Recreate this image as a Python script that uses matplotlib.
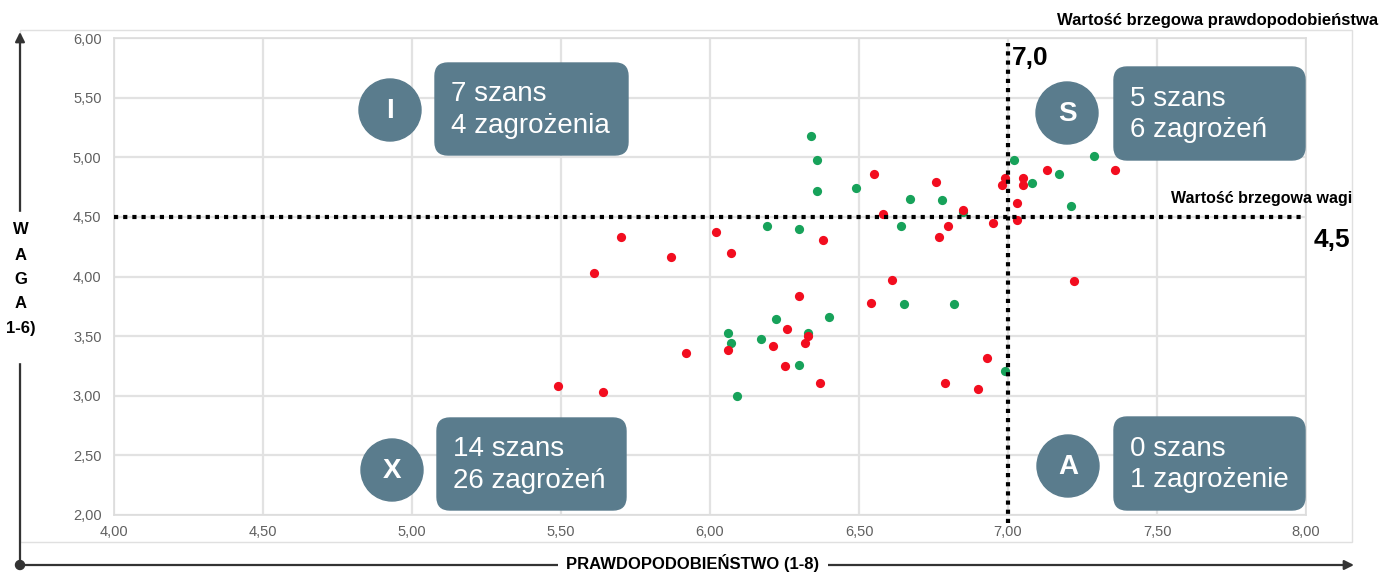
import numpy as np
import matplotlib.pyplot as plt
from matplotlib.patches import Circle, FancyBboxPatch, Rectangle

plt.rcParams['font.family'] = ['Liberation Sans', 'DejaVu Sans']

# szanse (zielone)
szanse_x = [6.34, 6.36, 6.36, 6.19, 6.30, 6.22, 6.40, 6.49, 6.67, 6.78, 6.64, 6.85, 7.02,
            7.08, 7.17, 7.29, 7.21, 6.65, 6.82, 6.33, 6.06, 6.07, 6.17, 6.30, 6.09, 6.99]
szanse_y = [5.18, 4.98, 4.72, 4.42, 4.40, 3.64, 3.66, 4.74, 4.65, 4.64, 4.42, 4.54, 4.98,
            4.78, 4.86, 5.01, 4.59, 3.77, 3.77, 3.53, 3.53, 3.44, 3.48, 3.26, 3.00, 3.21]

# zagrożenia (czerwone)
zagr_x = [6.38, 5.70, 6.02, 5.87, 6.07, 5.61, 6.30, 6.55, 6.76, 6.58, 6.85, 6.80, 6.77,
          6.95, 6.99, 6.98, 7.05, 7.05, 7.03, 7.03, 7.13, 7.36, 6.61, 6.54, 7.22, 6.26,
          6.33, 6.32, 6.06, 6.21, 5.92, 6.25, 6.37, 5.49, 5.64, 6.93, 6.79, 6.90]
zagr_y = [4.31, 4.33, 4.37, 4.16, 4.20, 4.03, 3.84, 4.86, 4.79, 4.52, 4.56, 4.42, 4.33,
          4.45, 4.83, 4.77, 4.83, 4.77, 4.62, 4.47, 4.89, 4.89, 3.97, 3.78, 3.96, 3.56,
          3.50, 3.44, 3.38, 3.42, 3.36, 3.25, 3.11, 3.08, 3.03, 3.32, 3.11, 3.06]

prog_x = 7.0
prog_y = 4.5
x_ticks = [4.0, 4.5, 5.0, 5.5, 6.0, 6.5, 7.0, 7.5, 8.0]
y_ticks = [2.0, 2.5, 3.0, 3.5, 4.0, 4.5, 5.0, 5.5, 6.0]

cwiartki = ['I', 'S', 'X', 'A']
opisy = ['7 szans\n4 zagrożenia', '5 szans\n6 zagrożeń',
         '14 szans\n26 zagrożeń', '0 szans\n1 zagrożenie']

W, H = 1394, 574
fig = plt.figure(figsize=(W / 100, H / 100), dpi=100)
ax = fig.add_axes([114 / W, 1 - 515 / H, (1306 - 114) / W, (515 - 38) / H])

ax.set_xlim(4, 8)
ax.set_ylim(2, 6)
ax.set_xticks(x_ticks)
ax.set_yticks(y_ticks)
ax.set_xticklabels([f'{v:.2f}'.replace('.', ',') for v in x_ticks])
ax.set_yticklabels([f'{v:.2f}'.replace('.', ',') for v in y_ticks])
ax.tick_params(length=0, labelsize=10.5, colors='#606060')
ax.tick_params(axis='x', pad=7)
ax.tick_params(axis='y', pad=9)
ax.grid(True, color='#e2e2e2', lw=1.6)
ax.set_axisbelow(True)
for s in ax.spines.values():
    s.set_color('#dcdcdc')
    s.set_linewidth(1.2)

ax.scatter(szanse_x, szanse_y, s=44, color='#17a25a', zorder=3, linewidths=0)
ax.scatter(zagr_x, zagr_y, s=44, color='#f20d1f', zorder=4, linewidths=0)

# progi
ax.plot([4, 7.99], [prog_y, prog_y], color='black', lw=3,
        dashes=(1, 1.2), solid_capstyle='butt', dash_capstyle='butt', zorder=5)
ax.plot([prog_x, prog_x], [-0.017, 0.99], color='black', lw=3,
        transform=ax.get_xaxis_transform(), clip_on=False,
        dashes=(1, 1.2), dash_capstyle='butt', zorder=5)

# warstwa opisów w pikselach
ov = fig.add_axes([0, 0, 1, 1], zorder=3)
ov.set_xlim(0, W)
ov.set_ylim(H, 0)
ov.axis('off')
ov.patch.set_visible(False)

ov.add_patch(Rectangle((20, 30), 1332, 512, fill=False, ec='#e0e0e0', lw=1))

kolor = '#5a7c8d'
pozycje = [(390, 110, 435, 63, 628, 155), (1067, 113, 1114, 67, 1305, 160),
           (392, 470, 437, 418, 626, 510), (1068, 466, 1114, 417, 1305, 510)]
for lit, txt, (cx, cy, x0, y0, x1, y1) in zip(cwiartki, opisy, pozycje):
    ov.add_patch(Circle((cx, cy), 31, color=kolor))
    ov.text(cx, cy + 1, lit, color='white', fontsize=20, fontweight='bold',
            ha='center', va='center')
    ov.add_patch(FancyBboxPatch((x0, y0), x1 - x0, y1 - y0,
                                boxstyle='round,pad=0,rounding_size=13',
                                color=kolor))
    ov.text(x0 + 16, (y0 + y1) / 2 + 1, txt, color='white', fontsize=20,
            ha='left', va='center', linespacing=1.28)

# strzałki osi
ov.annotate('', xy=(20, 32), xytext=(20, 565),
            arrowprops=dict(arrowstyle='-|>', color='#333333', lw=1.6,
                            mutation_scale=14, shrinkA=0, shrinkB=0))
ov.annotate('', xy=(1354, 565), xytext=(20, 565),
            arrowprops=dict(arrowstyle='-|>', color='#333333', lw=1.6,
                            mutation_scale=14, shrinkA=0, shrinkB=0))
ov.add_patch(Circle((20, 565), 4.5, color='#333333'))

ov.add_patch(Rectangle((4, 212), 34, 150, color='white', zorder=4))
for lit, yy in zip(['W', 'A', 'G', 'A', '1-6)'], [230, 255, 279, 304, 329]):
    ov.text(21, yy, lit, fontsize=12, fontweight='bold', ha='center', va='center',
            zorder=5)

ov.text(693, 563, 'PRAWDOPODOBIEŃSTWO (1-8)', fontsize=12, fontweight='bold',
        ha='center', va='center', zorder=5,
        bbox=dict(facecolor='white', edgecolor='none', pad=6))

ov.text(1378, 20, 'Wartość brzegowa prawdopodobieństwa', fontsize=12,
        fontweight='bold', ha='right', va='center')
ov.text(1012, 58, '7,0', fontsize=19, fontweight='bold', ha='left', va='center')
ov.text(1352, 198, 'Wartość brzegowa wagi', fontsize=11.5, fontweight='bold',
        ha='right', va='center')
ov.text(1350, 240, '4,5', fontsize=19, fontweight='bold', ha='right', va='center')

fig.savefig('out.png', dpi=100)
